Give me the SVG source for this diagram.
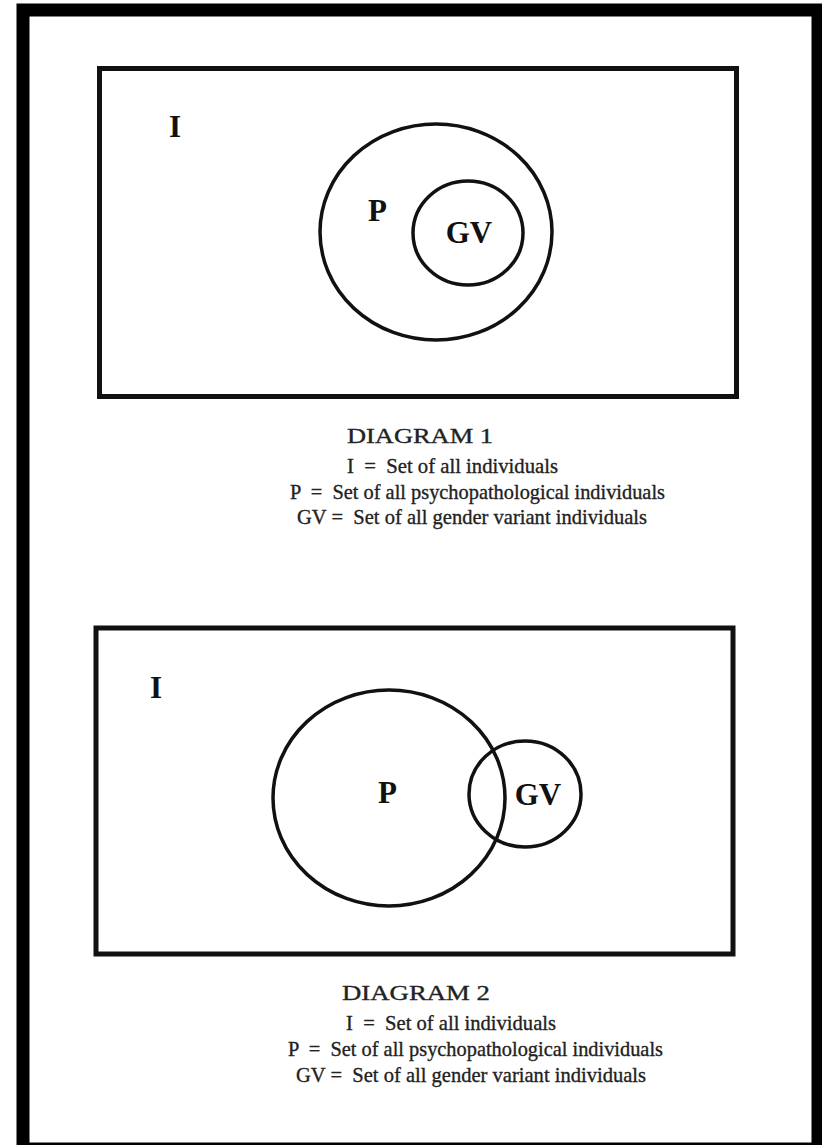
<svg xmlns="http://www.w3.org/2000/svg" width="822" height="1145" viewBox="0 0 822 1145">
<style>
.frame{fill:none;stroke:#000;stroke-width:13}
.box{fill:none;stroke:#111;stroke-width:5}
.set{fill:none;stroke:#111;stroke-width:3.5}
.lbl{font-family:"Liberation Serif",serif;font-weight:bold;font-size:31px;fill:#111}
.cap{font-family:"Liberation Serif",serif;font-size:22px;fill:#222;stroke:#222;stroke-width:0.35}
</style>
<rect class="frame" x="23" y="10" width="795" height="1139"/>
<g id="diagram1">
<rect class="box" x="99.5" y="68.5" width="637" height="328"/>
<text class="lbl" x="169" y="137">I</text>
<g id="d1-P">
<ellipse class="set" cx="436" cy="232" rx="116" ry="108"/>
<text class="lbl" x="368" y="221">P</text>
</g>
<g id="d1-GV">
<ellipse class="set" cx="468" cy="233" rx="55" ry="52"/>
<text class="lbl" x="469" y="243" text-anchor="middle">GV</text>
</g>
<g id="d1-caption">
<text class="cap" x="347" y="443" textLength="146" lengthAdjust="spacingAndGlyphs">DIAGRAM 1</text>
<text class="cap" x="347" y="473" textLength="211" lengthAdjust="spacingAndGlyphs" xml:space="preserve">I  =  Set of all individuals</text>
<text class="cap" x="290" y="499" textLength="375" lengthAdjust="spacingAndGlyphs" xml:space="preserve">P  =  Set of all psychopathological individuals</text>
<text class="cap" x="297" y="524" textLength="350" lengthAdjust="spacingAndGlyphs" xml:space="preserve">GV =  Set of all gender variant individuals</text>
</g>
</g>
<g id="diagram2">
<rect class="box" x="96" y="628" width="637" height="326"/>
<text class="lbl" x="150" y="698">I</text>
<g id="d2-P">
<ellipse class="set" cx="389" cy="798" rx="116" ry="108"/>
<text class="lbl" x="378" y="803">P</text>
</g>
<g id="d2-GV">
<ellipse class="set" cx="525" cy="794" rx="56" ry="53"/>
<text class="lbl" x="538" y="805" text-anchor="middle">GV</text>
</g>
<g id="d2-caption">
<text class="cap" x="342" y="1000" textLength="148" lengthAdjust="spacingAndGlyphs">DIAGRAM 2</text>
<text class="cap" x="346" y="1030" textLength="210" lengthAdjust="spacingAndGlyphs" xml:space="preserve">I  =  Set of all individuals</text>
<text class="cap" x="288" y="1056" textLength="375" lengthAdjust="spacingAndGlyphs" xml:space="preserve">P  =  Set of all psychopathological individuals</text>
<text class="cap" x="296" y="1082" textLength="350" lengthAdjust="spacingAndGlyphs" xml:space="preserve">GV =  Set of all gender variant individuals</text>
</g>
</g>
</svg>
